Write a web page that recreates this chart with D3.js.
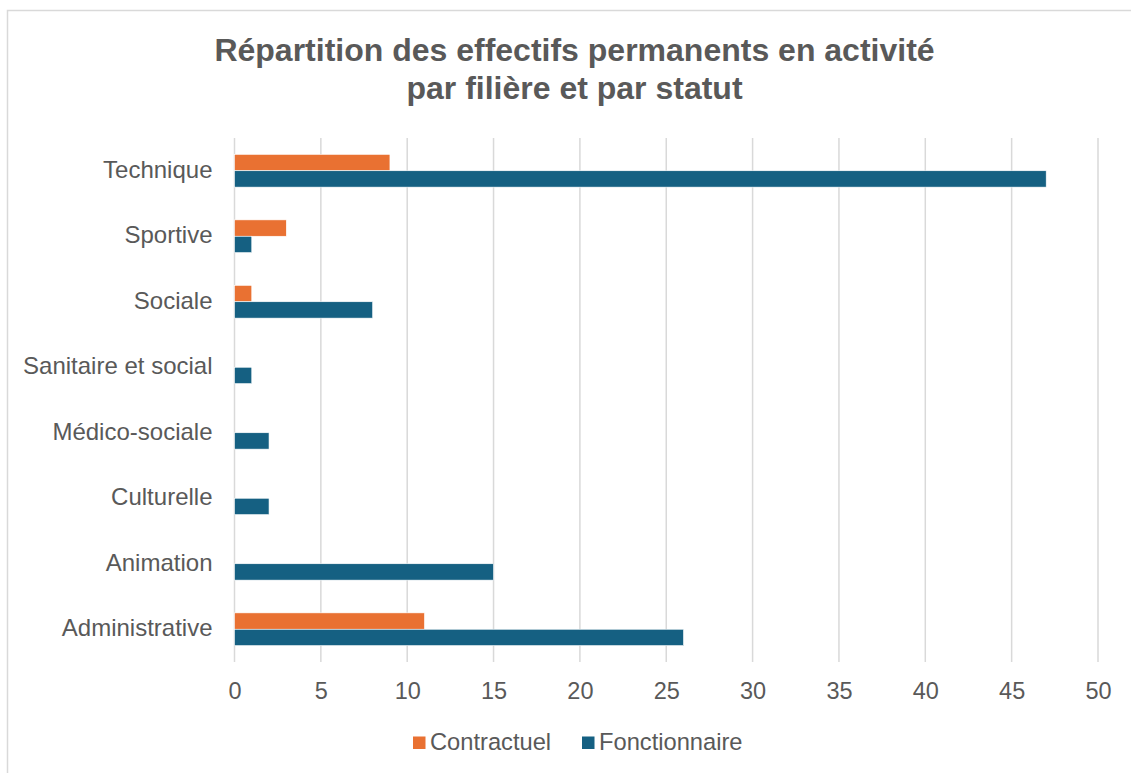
<!DOCTYPE html>
<html>
<head>
<meta charset="utf-8">
<script src="https://cdn.jsdelivr.net/npm/d3@7"></script>
<style>
  html, body { margin: 0; padding: 0; background: #fff; }
  svg { display: block; font-family: "Liberation Sans", Arial, sans-serif; }
</style>
</head>
<body>
<svg id="chart" width="1131" height="773"></svg>
<script>
const categories = ["Technique", "Sportive", "Sociale", "Sanitaire et social", "Médico-sociale", "Culturelle", "Animation", "Administrative"];
const seriesNames = ["Contractuel", "Fonctionnaire"];
const contractuel = [9, 3, 1, 0, 0, 0, 0, 11];
const fonctionnaire = [47, 1, 8, 1, 2, 2, 15, 26];
const xTicks = [0, 5, 10, 15, 20, 25, 30, 35, 40, 45, 50];
const colors = ["#E97132", "#156082"];
const titleLines = ["Répartition des effectifs permanents en activité", "par filière et par statut"];

const svg = d3.select("#chart");
const textColor = "#595959";

// frame
svg.append("rect").attr("x", 7.5).attr("y", 10.5).attr("width", 1140).attr("height", 780)
  .attr("fill", "none").attr("stroke", "#d9d9d9").attr("stroke-width", 1.5);

// title
svg.append("text").attr("x", 574.5).attr("y", 61).attr("text-anchor", "middle")
  .attr("font-size", 32).attr("font-weight", "bold").attr("fill", textColor).text(titleLines[0]);
svg.append("text").attr("x", 574.5).attr("y", 99).attr("text-anchor", "middle")
  .attr("font-size", 32).attr("font-weight", "bold").attr("fill", textColor).text(titleLines[1]);

const plot = { left: 234.5, right: 1098, top: 138, bottom: 662 };

const x = d3.scaleLinear().domain([0, 50]).range([plot.left, plot.right]);
const y = d3.scaleBand().domain(categories).range([plot.top, plot.bottom])
  .paddingInner(0.5).paddingOuter(0.25);
const ySub = d3.scaleBand().domain(seriesNames).range([0, y.bandwidth()]);

// gridlines
svg.append("g").selectAll("line").data(xTicks).join("line")
  .attr("x1", d => x(d)).attr("x2", d => x(d))
  .attr("y1", plot.top).attr("y2", plot.bottom)
  .attr("stroke", "#d9d9d9").attr("stroke-width", 1.5);

// x axis labels
const xAxis = d3.axisBottom(x).tickValues(xTicks).tickSize(0).tickPadding(0);
const gx = svg.append("g").attr("transform", `translate(0, ${plot.bottom + 37})`).call(xAxis);
gx.select(".domain").remove();
gx.selectAll("text").attr("font-size", 23.5).attr("fill", textColor)
  .attr("font-family", "Liberation Sans, Arial, sans-serif").attr("dy", "0");

// y axis labels
const yAxis = d3.axisLeft(y).tickSize(0).tickPadding(22);
const gy = svg.append("g").attr("transform", `translate(${plot.left}, 0)`).call(yAxis);
gy.select(".domain").remove();
gy.selectAll("text").attr("font-size", 24).attr("fill", textColor)
  .attr("font-family", "Liberation Sans, Arial, sans-serif").attr("dy", "0.3em");

// bars
const rows = categories.map((c, i) => ({ cat: c, values: [contractuel[i], fonctionnaire[i]] }));
const groups = svg.append("g").selectAll("g").data(rows).join("g")
  .attr("transform", d => `translate(0, ${y(d.cat)})`);
groups.selectAll("rect")
  .data(d => d.values.map((v, j) => ({ series: seriesNames[j], value: v, color: colors[j] })).filter(e => e.value > 0))
  .join("rect")
  .attr("x", x(0))
  .attr("y", d => ySub(d.series))
  .attr("width", d => x(d.value) - x(0))
  .attr("height", ySub.bandwidth())
  .attr("fill", d => d.color)
  .attr("stroke", "#ffffff").attr("stroke-width", 0.6);

// legend
const legend = svg.append("g");
const legendItems = [{ name: seriesNames[0], color: colors[0], x: 413 }, { name: seriesNames[1], color: colors[1], x: 582 }];
legendItems.forEach(it => {
  legend.append("rect").attr("x", it.x).attr("y", 736.5).attr("width", 12.5).attr("height", 12.5).attr("fill", it.color);
  legend.append("text").attr("x", it.x + 17).attr("y", 749.5).attr("font-size", 23.7)
    .attr("fill", textColor).text(it.name);
});
</script>
</body>
</html>
